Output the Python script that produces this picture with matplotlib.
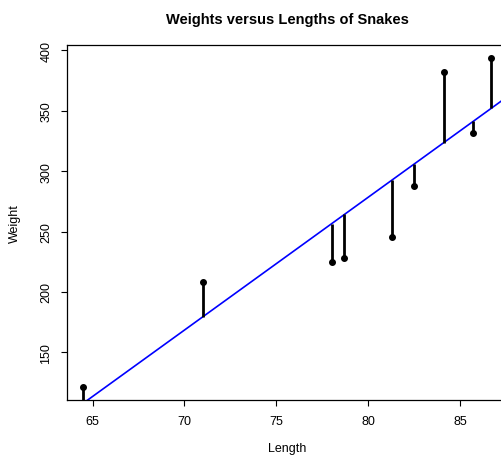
import numpy as np
import matplotlib.pyplot as plt

plt.rcParams['font.family'] = ['Liberation Sans', 'DejaVu Sans']

length = [85.7, 64.5, 84.1, 82.5, 78.0, 81.3, 71.0, 86.7, 78.7]
weight = [331.9, 121.5, 382.2, 287.3, 224.9, 245.4, 208.2, 393.4, 228.3]
xticks = [65, 70, 75, 80, 85]
yticks = [150, 200, 250, 300, 350, 400]

x = np.array(length)
y = np.array(weight)
slope, intercept = np.polyfit(x, y, 1)
fitted = intercept + slope * x

fig = plt.figure(figsize=(5.02, 4.56), dpi=100)
ax = fig.add_axes([0.1335, 0.1206, 0.878, 0.7785])

# R style ranges (4% padding)
xr = x.max() - x.min()
yr = y.max() - y.min()
ax.set_xlim(x.min() - 0.04 * xr, x.max() + 0.04 * xr)
ax.set_ylim(y.min() - 0.04 * yr, y.max() + 0.04 * yr)

xx = np.array(ax.get_xlim())
ax.plot(xx, intercept + slope * xx, color='#0000ff', lw=1.2, zorder=2)
ax.vlines(x, fitted, y, color='black', lw=2, zorder=3)
ax.scatter(x, y, s=16, color='black', zorder=4)

ax.set_xticks(xticks)
ax.set_yticks(yticks)
ax.set_yticklabels([str(v) for v in yticks], rotation=90, va='center')
ax.tick_params(direction='out', length=4.5, width=0.8, labelsize=9, pad=6)
for s in ax.spines.values():
    s.set_linewidth(0.9)

ax.set_xlabel('Length', fontsize=9, labelpad=11)
ax.set_ylabel('Weight', fontsize=9, labelpad=14)
ax.set_title('Weights versus Lengths of Snakes', fontsize=10.5, fontweight='bold', pad=16)

fig.savefig('out.png', dpi=100)
